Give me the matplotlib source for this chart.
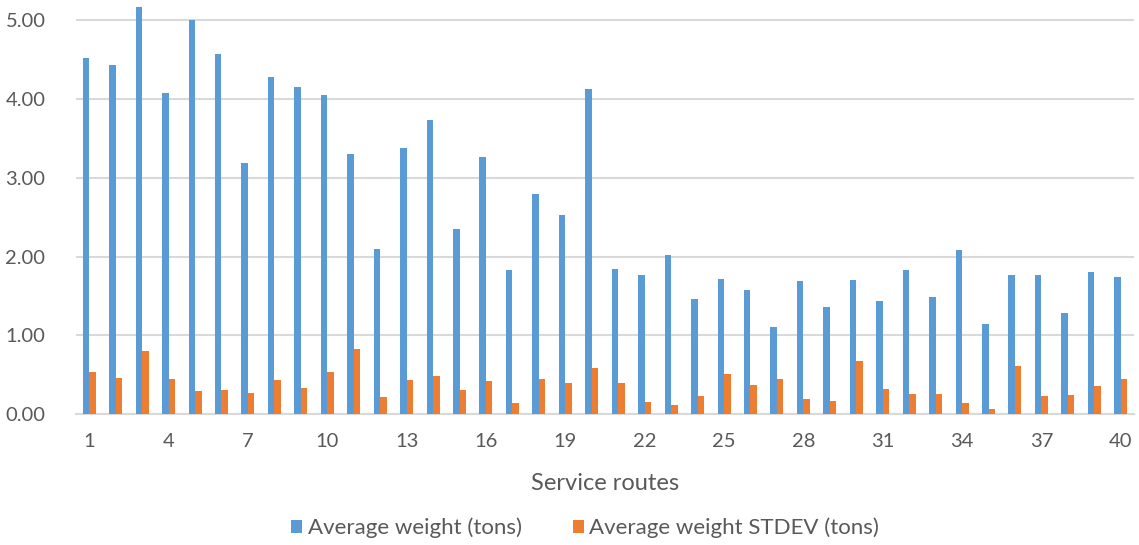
import numpy as np
import matplotlib.pyplot as plt

## Styles
plt.rcParams['font.family'] = ['Lato', 'DejaVu Sans']
text_grey = '#595959'
grid_grey = '#d9d9d9'
blue = '#5b9bd5'
orange = '#ed7d31'

## Data
routes = np.arange(1, 41)
avg_weight = [4.52, 4.43, 5.17, 4.08, 5.01, 4.58, 3.19, 4.28, 4.15, 4.05,
              3.30, 2.10, 3.38, 3.73, 2.35, 3.27, 1.83, 2.80, 2.53, 4.13,
              1.84, 1.77, 2.02, 1.46, 1.72, 1.58, 1.11, 1.69, 1.36, 1.70,
              1.44, 1.83, 1.49, 2.09, 1.14, 1.76, 1.77, 1.28, 1.80, 1.74]
avg_weight_std = [0.53, 0.46, 0.80, 0.44, 0.29, 0.31, 0.27, 0.43, 0.33, 0.53,
                  0.82, 0.22, 0.43, 0.48, 0.31, 0.42, 0.14, 0.44, 0.39, 0.58,
                  0.39, 0.15, 0.11, 0.23, 0.51, 0.37, 0.44, 0.19, 0.16, 0.67,
                  0.32, 0.26, 0.26, 0.14, 0.06, 0.61, 0.23, 0.24, 0.36, 0.44]
xtick_labels = [str(r) for r in range(1, 41, 3)]

fig = plt.figure(figsize=(11.39, 5.45), dpi=100)
ax = fig.add_axes([76/1139, 1 - 414/545, 1058/1139, 414/545])

w = 0.245
ax.bar(routes - w/2, avg_weight, width=w, color=blue, label='Average weight (tons)', zorder=3)
ax.bar(routes + w/2, avg_weight_std, width=w, color=orange, label='Average weight STDEV (tons)', zorder=3)

ax.set_xlim(0.5, 40.5)
ax.set_ylim(0, 5.26)
ax.set_yticks(np.arange(0, 6, 1))
ax.set_yticklabels(['%.2f' % v for v in np.arange(0, 6, 1)])
ax.set_xticks(range(1, 41, 3))
ax.set_xticklabels(xtick_labels)
ax.tick_params(length=0, labelsize=14.5, labelcolor=text_grey)
ax.tick_params(axis='x', pad=14)
ax.tick_params(axis='y', pad=22)
ax.yaxis.grid(True, color=grid_grey, linewidth=1.5, zorder=0)
ax.set_axisbelow(True)
for side in ['top', 'right', 'left']:
    ax.spines[side].set_visible(False)
ax.spines['bottom'].set_color(grid_grey)
ax.spines['bottom'].set_linewidth(1.5)

ax.set_xlabel('Service routes', fontsize=17, color=text_grey, labelpad=16)

leg = fig.legend(loc='center', bbox_to_anchor=(585/1139, 1 - 528/545), ncol=2, frameon=False,
                 fontsize=16, handlelength=0.5, handleheight=0.5, handletextpad=0.25,
                 columnspacing=2.3)
for t in leg.get_texts():
    t.set_color(text_grey)

plt.savefig('out.png', dpi=100)
